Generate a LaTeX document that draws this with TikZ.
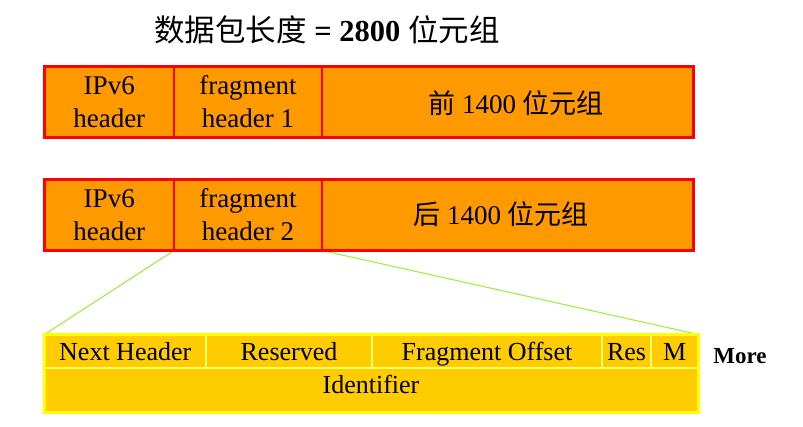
\documentclass[tikz,border=0pt]{standalone}
\usepackage{fontspec}
\setmainfont{Liberation Serif}
\newfontfamily\cjk{Noto Sans CJK SC}
\definecolor{pkorange}{RGB}{255,153,0}
\definecolor{pkred}{RGB}{255,0,0}
\definecolor{fhgold}{RGB}{255,204,0}
\definecolor{fhyellow}{RGB}{255,255,0}
\definecolor{fhline}{RGB}{255,255,110}
\definecolor{zoomgreen}{RGB}{153,238,51}
\tikzset{
  redcell/.style={draw=pkred, line width=1.3pt, fill=pkorange, minimum height=71pt,
    inner sep=0pt, outer sep=0pt, anchor=north west, align=center,
    font=\fontsize{27}{33}\selectfont},
  redframe/.style={draw=pkred, line width=3pt, minimum height=71pt,
    inner sep=0pt, outer sep=0pt, anchor=north west},
  goldcell/.style={draw=fhline, line width=1.3pt, fill=fhgold, minimum height=33.5pt,
    inner sep=0pt, outer sep=0pt, anchor=north west, text height=24pt, text depth=4.5pt,
    font=\fontsize{26}{30}\selectfont},
  goldframe/.style={draw=fhyellow, line width=3pt, minimum width=654pt, minimum height=78pt,
    inner sep=0pt, outer sep=0pt, anchor=north west},
  boxtext/.style={font=\fontsize{27}{33}\selectfont, inner sep=0pt},
  zoomline/.style={draw=zoomgreen, line width=1pt}
}
\begin{document}
\begin{tikzpicture}[x=1pt,y=-1pt]
\useasboundingbox (0,0) rectangle (803,427);
% title
\node[font=\fontsize{30.5}{36}\selectfont, anchor=base] (title) at (327,42)
  {{\cjk 数据包长度} \textbf{= 2800} {\cjk 位元组}};
% packet 1
\node[redcell, minimum width=129.5pt] (a1) at (44.5,66.5) {IPv6\\header};
\node[redcell, minimum width=148pt] (a2) at (174,66.5) {fragment\\header 1};
\node[redcell, minimum width=371.5pt] (a3) at (322,66.5) {};
\node[redframe, minimum width=649pt] (p1) at (44.5,66.5) {};
\node[boxtext] (t1) at (516,103) {{\cjk 前} 1400 {\cjk 位元组}};
% packet 2
\node[redcell, minimum width=129.5pt] (b1) at (44.5,179.5) {IPv6\\header};
\node[redcell, minimum width=148pt] (b2) at (174,179.5) {fragment\\header 2};
\node[redcell, minimum width=371.5pt] (b3) at (322,179.5) {};
\node[boxtext] (t2) at (501,214) {{\cjk 后} 1400 {\cjk 位元组}};
% fragment header
\node[goldcell, minimum width=161.5pt] (f1) at (44.5,334.5) {Next Header};
\node[goldcell, minimum width=166pt] (f2) at (206,334.5) {Reserved};
\node[goldcell, minimum width=230pt] (f3) at (372,334.5) {Fragment Offset};
\node[goldcell, minimum width=49pt] (f4) at (602,334.5) {Res};
\node[goldcell, minimum width=47.5pt] (f5) at (651,334.5) {M};
\node[goldcell, minimum width=654pt, minimum height=44.5pt] (f6) at (44.5,368) {};
\node[font=\fontsize{26}{30}\selectfont, anchor=base] (ident) at (371,393) {Identifier};
% zoom lines
\draw[zoomline] (b2.south west) -- (f1.north west);
\draw[zoomline] (b2.south east) -- (f5.north east);
\node[goldframe] (fh) at (44.5,334.5) {};
\node[redframe, minimum width=649pt] (p2) at (44.5,179.5) {};
% label
\node[font=\bfseries\fontsize{23}{28}\selectfont, anchor=base] (more) at (740,363) {More};
\end{tikzpicture}
\end{document}
